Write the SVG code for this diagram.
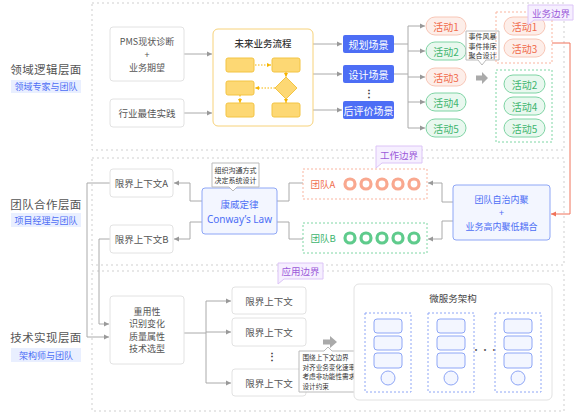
<svg xmlns="http://www.w3.org/2000/svg" width="576" height="414" viewBox="0 0 576 414">
<defs>
<marker id="ag" markerWidth="6" markerHeight="6" refX="5" refY="3" orient="auto" markerUnits="userSpaceOnUse"><path d="M0,0.5 L5,3 L0,5.5 z" fill="#999"/></marker>
<marker id="ao" markerWidth="5" markerHeight="5" refX="4" refY="2.5" orient="auto" markerUnits="userSpaceOnUse"><path d="M0,0.5 L4,2.5 L0,4.5 z" fill="#f5b400"/></marker>
<marker id="ar" markerWidth="6" markerHeight="6" refX="5" refY="3" orient="auto" markerUnits="userSpaceOnUse"><path d="M0,0.5 L5,3 L0,5.5 z" fill="#f0735a"/></marker>
</defs>
<style>
text{font-family:"Noto Sans CJK SC","Noto Sans",sans-serif;dominant-baseline:central;text-anchor:middle}
.layer{fill:none;stroke:#cfcfcf;stroke-dasharray:2 3}
.lt{font-size:11.5px;fill:#555;letter-spacing:0.4px}
.sub{fill:#e9efff}
.st{font-size:9px;fill:#4d6ef5}
.box{fill:#fff;stroke:#e2e2e2}
.bt{font-size:9.5px;fill:#555}
.bt9{font-size:9px;fill:#555}
.conn{fill:none;stroke:#aaa;stroke-width:1}
.dot{fill:none;stroke:#f5b400;stroke-dasharray:1.5 1.5}
.yb{fill:#fdd874;stroke:#f3c443}
.scene{fill:#4d6ef5}
.sct{fill:#fff;font-size:10px}
.pr{fill:#fdeee9;stroke:#f8c6b6}
.prt{fill:#f06a4a;font-size:10px}
.pg{fill:#e9f8ef;stroke:#7fd4a4}
.pgt{fill:#3db56e;font-size:10px}
.tip{fill:#fff;stroke:#bbb}
.tipt{font-size:7px;fill:#333}
.tipl{font-size:6.6px;fill:#333;text-anchor:start}
.tag{fill:#f6efff;stroke:#dcc4f7}
.tagt{fill:#9b59d9;font-size:9.5px}
.blue{fill:#f3f6ff;stroke:#8ea6f6}
.bluet{fill:#4d6ef5}
.dr{fill:none;stroke:#f9b5a0;stroke-dasharray:2 2}
.dg{fill:none;stroke:#7fd6a4;stroke-dasharray:2 2}
.db{fill:none;stroke:#8ea6f6;stroke-dasharray:2 2}
.rr{fill:none;stroke:#f9a88f;stroke-width:3.2}
.rg{fill:none;stroke:#5fcb8c;stroke-width:3.2}
.fat{fill:#aaa}
</style>

<g id="layers">
<rect class="layer" x="92" y="3" width="472" height="147"/>
<rect class="layer" x="92" y="158" width="472" height="107"/>
<rect class="layer" x="92" y="271" width="472" height="140"/>
</g>

<g id="layer-labels">
<text class="lt" x="46" y="69">领域逻辑层面</text>
<rect class="sub" x="11" y="80" width="70" height="13"/>
<text class="st" x="46" y="86.5">领域专家与团队</text>
<text class="lt" x="46" y="204">团队合作层面</text>
<rect class="sub" x="11" y="213" width="70" height="14"/>
<text class="st" x="46" y="220">项目经理与团队</text>
<text class="lt" x="46" y="337">技术实现层面</text>
<rect class="sub" x="11" y="348" width="70" height="14"/>
<text class="st" x="46" y="355">架构师与团队</text>
</g>

<g id="connectors">
<path class="conn" d="M184,54 H212" marker-end="url(#ag)"/>
<path class="conn" d="M184,113 H212" marker-end="url(#ag)"/>
<path class="conn" d="M313,44 H342" marker-end="url(#ag)"/>
<path class="conn" d="M313,74 H342" marker-end="url(#ag)"/>
<path class="conn" d="M313,110 H342" marker-end="url(#ag)"/>
<path class="conn" d="M394,44 H408 M394,74 H408 M408,26 V128"/>
<path class="conn" d="M408,26 H425" marker-end="url(#ag)"/>
<path class="conn" d="M408,51 H425" marker-end="url(#ag)"/>
<path class="conn" d="M408,77 H425" marker-end="url(#ag)"/>
<path class="conn" d="M408,102 H425" marker-end="url(#ag)"/>
<path class="conn" d="M408,128 H425" marker-end="url(#ag)"/>
<path class="conn" d="M202,201 H190 V183 H174" marker-end="url(#ag)"/>
<path class="conn" d="M202,222 H190 V239 H174" marker-end="url(#ag)"/>
<path class="conn" d="M277,201 H289 V183 H303"/>
<path class="conn" d="M277,222 H289 V239 H303"/>
<path class="conn" d="M453,202 H442 V183 H428" marker-end="url(#ag)"/>
<path class="conn" d="M453,221 H442 V239 H428" marker-end="url(#ag)"/>
<path d="M552,43 H570 V214 H551" fill="none" stroke="#f0735a" stroke-width="1" marker-end="url(#ar)"/>
<path class="conn" d="M110,183 H87 V337 H109" marker-end="url(#ag)"/>
<path class="conn" d="M110,239 H99 V324 H109" marker-end="url(#ag)"/>
<path class="conn" d="M184,333 H206 M206,301 V383"/>
<path class="conn" d="M206,301 H231" marker-end="url(#ag)"/>
<path class="conn" d="M206,332 H231" marker-end="url(#ag)"/>
<path class="conn" d="M206,383 H231" marker-end="url(#ag)"/>
</g>

<g id="pms">
<rect class="box" x="110" y="27" width="74" height="54" rx="3"/>
<text class="bt9" x="147" y="41.5">PMS现状诊断</text>
<text class="bt9" x="147" y="54">+</text>
<text class="bt9" x="147" y="67">业务期望</text>
</g>
<g id="best-practice">
<rect class="box" x="110" y="99" width="74" height="28" rx="3"/>
<text class="bt" x="147" y="113">行业最佳实践</text>
</g>

<g id="future-flow">
<rect x="213" y="29" width="100" height="97" rx="5" fill="#fff" stroke="#f7d27a"/>
<text x="263" y="43" font-size="9.5" font-weight="500" fill="#333">未来业务流程</text>
<rect class="yb" x="226" y="58" width="28" height="14" rx="2"/>
<rect class="yb" x="272" y="58" width="28" height="14" rx="2"/>
<rect class="yb" x="226" y="81" width="28" height="14" rx="2"/>
<polygon class="yb" points="286,77 297,88 286,99 275,88"/>
<rect class="yb" x="226" y="103" width="28" height="14" rx="2"/>
<rect class="yb" x="272" y="103" width="28" height="14" rx="2"/>
<path class="dot" d="M255,65 H271" marker-end="url(#ao)"/>
<path class="dot" d="M286,72 V77" marker-end="url(#ao)"/>
<path class="dot" d="M275,88 H255" marker-end="url(#ao)"/>
<path class="dot" d="M240,95 V103" marker-end="url(#ao)"/>
<path class="dot" d="M286,99 V103" marker-end="url(#ao)"/>
</g>

<g id="scene-plan">
<rect class="scene" x="343" y="35" width="51" height="18" rx="2"/>
<text class="sct" x="368.5" y="44">规划场景</text>
</g>
<g id="scene-design">
<rect class="scene" x="343" y="65" width="51" height="18" rx="2"/>
<text class="sct" x="368.5" y="74">设计场景</text>
</g>
<g id="scene-dots">
<text x="369" y="92" font-size="10" fill="#333" font-weight="bold">⋮</text>
</g>
<g id="scene-eval">
<rect class="scene" x="343" y="101" width="51" height="18" rx="2"/>
<text class="sct" x="368.5" y="110" font-size="9.5">后评价场景</text>
</g>

<g id="activities">
<rect class="pr" x="426" y="17" width="40" height="18" rx="9"/><text class="prt" x="446" y="26">活动1</text>
<rect class="pg" x="426" y="42" width="40" height="18" rx="9"/><text class="pgt" x="446" y="51">活动2</text>
<rect class="pr" x="426" y="68" width="40" height="18" rx="9"/><text class="prt" x="446" y="77">活动3</text>
<rect class="pg" x="426" y="93" width="40" height="18" rx="9"/><text class="pgt" x="446" y="102">活动4</text>
<rect class="pg" x="426" y="119" width="40" height="18" rx="9"/><text class="pgt" x="446" y="128">活动5</text>
</g>

<g id="tip-event">
<path class="tip" d="M466,31 H499 V60 H486 L482,65 L478,60 H466 Z"/>
<text class="tipt" x="482.5" y="36">事件风暴</text>
<text class="tipt" x="482.5" y="45.5">事件排序</text>
<text class="tipt" x="482.5" y="55">聚合设计</text>
</g>
<g id="fat-arrow-1">
<polygon class="fat" points="476,75.5 482,75.5 482,72 488,78 482,84 482,80.5 476,80.5"/>
</g>

<g id="red-group">
<rect class="dr" x="496" y="12" width="56" height="51"/>
<rect class="pr" x="504" y="17" width="41" height="18" rx="9"/><text class="prt" x="524.5" y="26">活动1</text>
<rect class="pr" x="504" y="39" width="41" height="18" rx="9"/><text class="prt" x="524.5" y="48">活动3</text>
</g>
<g id="green-group">
<rect class="dg" x="496" y="70" width="56" height="72"/>
<rect class="pg" x="504" y="75" width="41" height="18" rx="9"/><text class="pgt" x="524.5" y="84">活动2</text>
<rect class="pg" x="504" y="97" width="41" height="18" rx="9"/><text class="pgt" x="524.5" y="106">活动4</text>
<rect class="pg" x="504" y="119" width="41" height="18" rx="9"/><text class="pgt" x="524.5" y="128">活动5</text>
</g>
<g id="tag-business">
<path class="tag" d="M528,5 H573 V20 H534 L528,25 Z"/>
<text class="tagt" x="551" y="12.5">业务边界</text>
</g>

<g id="context-a">
<rect class="box" x="110" y="169" width="63" height="28" rx="3"/>
<text class="bt" x="141.5" y="183">限界上下文A</text>
</g>
<g id="context-b">
<rect class="box" x="110" y="225" width="63" height="28" rx="3"/>
<text class="bt" x="141.5" y="239">限界上下文B</text>
</g>
<g id="conway">
<rect class="blue" x="202" y="188" width="75" height="46" rx="3"/>
<text class="bluet" x="239.5" y="204" font-size="9.5">康威定律</text>
<text class="bluet" x="239.5" y="219" font-size="10" style="font-family:'Noto Sans',sans-serif">Conway’s Law</text>
</g>
<g id="tip-conway">
<path class="tip" d="M212,163 H259 V187 H237 L233,191 L229,187 H212 Z"/>
<text class="tipt" x="235.5" y="170">组织沟通方式</text>
<text class="tipt" x="235.5" y="179.5">决定系统设计</text>
</g>
<g id="team-a">
<rect class="dr" x="303" y="169" width="124" height="30"/>
<text x="323" y="184" font-size="9.5" fill="#f07050">团队A</text>
<circle class="rr" cx="350" cy="184" r="5"/>
<circle class="rr" cx="366" cy="184" r="5"/>
<circle class="rr" cx="382" cy="184" r="5"/>
<circle class="rr" cx="398" cy="184" r="5"/>
<circle class="rr" cx="414" cy="184" r="5"/>
</g>
<g id="team-b">
<rect class="dg" x="303" y="223" width="124" height="30"/>
<text x="323" y="238" font-size="9.5" fill="#3db56e">团队B</text>
<circle class="rg" cx="350" cy="238" r="5"/>
<circle class="rg" cx="366" cy="238" r="5"/>
<circle class="rg" cx="382" cy="238" r="5"/>
<circle class="rg" cx="398" cy="238" r="5"/>
<circle class="rg" cx="414" cy="238" r="5"/>
</g>
<g id="tag-work">
<path class="tag" d="M376,146 H422 V163 H382 L376,168 Z"/>
<text class="tagt" x="399" y="154.5">工作边界</text>
</g>
<g id="team-autonomy">
<rect class="blue" x="453" y="185" width="97" height="55" rx="3"/>
<text class="bluet" x="501.5" y="199" font-size="9">团队自治内聚</text>
<text class="bluet" x="501.5" y="212" font-size="9">+</text>
<text class="bluet" x="501.5" y="226" font-size="9">业务高内聚低耦合</text>
</g>

<g id="tech-box">
<rect class="box" x="110" y="296" width="74" height="68" rx="3"/>
<text class="bt9" x="147" y="311">重用性</text>
<text class="bt9" x="147" y="323.5">识别变化</text>
<text class="bt9" x="147" y="336">质量属性</text>
<text class="bt9" x="147" y="348.5">技术选型</text>
</g>
<g id="ctx-1">
<rect class="box" x="232" y="287" width="74" height="27" rx="3"/>
<text class="bt" x="269" y="300.5">限界上下文</text>
</g>
<g id="ctx-2">
<rect class="box" x="232" y="318" width="74" height="28" rx="3"/>
<text class="bt" x="269" y="332">限界上下文</text>
</g>
<g id="ctx-dots">
<text x="272" y="355" font-size="10" fill="#333" font-weight="bold">⋮</text>
</g>
<g id="ctx-3">
<rect class="box" x="232" y="369" width="74" height="27" rx="3"/>
<text class="bt" x="269" y="382.5">限界上下文</text>
</g>
<g id="tag-app">
<path class="tag" d="M278,263 H323 V279 H284 L278,284 Z"/>
<text class="tagt" x="300.5" y="271">应用边界</text>
</g>
<g id="fat-arrow-2">
<polygon class="fat" points="323,339.5 330,339.5 330,336 337,342 330,348 330,344.5 323,344.5"/>
</g>
<g id="tip-ctx">
<path class="tip" d="M299,351 H324 L328,347 L332,351 H362 V392 H299 Z"/>
<text class="tipl" x="302.5" y="357">围绕上下文边界</text>
<text class="tipl" x="302.5" y="366.5">对齐业务变化速率</text>
<text class="tipl" x="302.5" y="376">考虑非功能性需求</text>
<text class="tipl" x="302.5" y="385.5">设计约束</text>
</g>

<g id="microservices">
<rect class="box" x="354" y="284" width="198" height="116" rx="5"/>
<text x="453" y="298" font-size="9.5" fill="#444">微服务架构</text>
<rect class="db" x="365" y="313" width="46" height="79"/>
<rect class="blue" x="374" y="319" width="28" height="14" rx="3"/>
<rect class="blue" x="374" y="336" width="28" height="14" rx="3"/>
<rect class="blue" x="374" y="353" width="28" height="15" rx="3"/>
<circle class="blue" cx="388" cy="378" r="7"/>
<rect class="db" x="428" y="313" width="46" height="79"/>
<rect class="blue" x="437" y="319" width="28" height="14" rx="3"/>
<rect class="blue" x="437" y="336" width="28" height="14" rx="3"/>
<rect class="blue" x="437" y="353" width="28" height="15" rx="3"/>
<circle class="blue" cx="451" cy="378" r="7"/>
<text x="485" y="349" font-size="9" fill="#555">···</text>
<rect class="db" x="495" y="313" width="46" height="79"/>
<rect class="blue" x="504" y="319" width="28" height="14" rx="3"/>
<rect class="blue" x="504" y="336" width="28" height="14" rx="3"/>
<rect class="blue" x="504" y="353" width="28" height="15" rx="3"/>
<circle class="blue" cx="518" cy="378" r="7"/>
</g>
</svg>
